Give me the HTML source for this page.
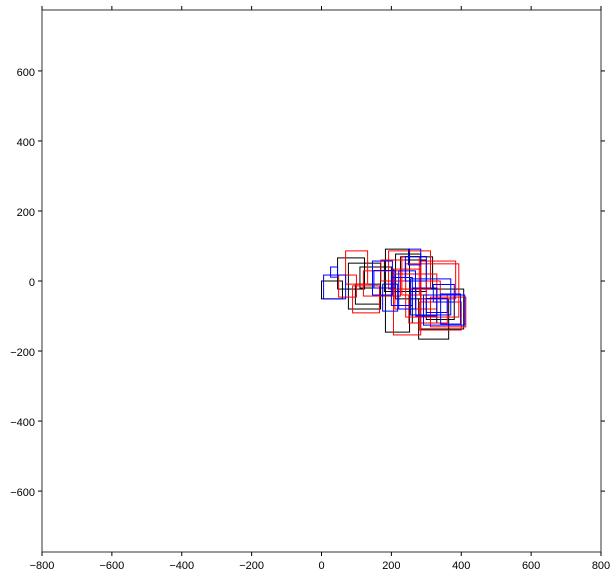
<!DOCTYPE html>
<html><head><meta charset="utf-8"><style>body{margin:0;background:#fff}svg{display:block}text{font-family:"Liberation Sans",sans-serif;font-size:11px;fill:#000}</style></head>
<body>
<svg id="chart" width="616" height="578"></svg>
<script>
const xTicks=[-800,-600,-400,-200,0,200,400,600,800];
const yTicks=[-600,-400,-200,0,200,400,600];
const blackX0=[0,46,77,183,226,278,284,212,97,180,260,110,300];
const blackY0=[-51,-23,-80,-146,-23,-166,-137,-51,-66,-30,-120,-20,-110];
const blackX1=[60,123,169,252,318,364,407,284,169,300,330,200,380];
const blackY1=[0,66,51,91,69,-51,-23,77,-9,60,-20,40,-40];
const redX0=[69,89,192,206,241,312,284,49,120,210,250,170,280,300,230];
const redY0=[-9,-91,-23,-154,-103,-131,-51,-46,-43,-80,-120,0,-140,-60,-40];
const redX1=[132,166,312,284,393,413,384,100,226,330,360,240,400,340,280];
const redY1=[86,-14,86,34,49,-46,57,17,29,20,-40,60,-60,0,70];
const blueX0=[26,6,249,146,255,292,221,175,341,200,270,240,300,150,320];
const blueY0=[11,-51,46,-40,-97,-126,-80,-86,-123,-70,-100,0,-90,-20,-60];
const blueX1=[46,69,284,203,370,410,269,218,398,260,330,300,360,210,380];
const blueY1=[40,17,91,57,6,-40,29,-9,-37,10,-20,70,-50,30,-10];
const L=42,R=601,T=10,B=552,XMIN=-800,XMAX=800,YMIN=-774,YMAX=774;
const sx=v=>L+(v-XMIN)/(XMAX-XMIN)*(R-L);
const sy=v=>B-(v-YMIN)/(YMAX-YMIN)*(B-T);
const svg=document.getElementById('chart');const NS='http://www.w3.org/2000/svg';
function mk(t,a){const e=document.createElementNS(NS,t);for(const k in a)e.setAttribute(k,a[k]);svg.appendChild(e);return e;}
function drawSet(x0,y0,x1,y1,col,name){for(let i=0;i<x0.length;i++){const r=mk('rect',{x:sx(x0[i]),y:sy(y1[i]),width:sx(x1[i])-sx(x0[i]),height:sy(y0[i])-sy(y1[i]),fill:'none',stroke:col,'stroke-width':1});

}}
drawSet(blackX0,blackY0,blackX1,blackY1,'#000','black');
drawSet(redX0,redY0,redX1,redY1,'#f00','red');
drawSet(blueX0,blueY0,blueX1,blueY1,'#00f','blue');
const f=mk('rect',{x:L,y:T,width:R-L,height:B-T,fill:'none',stroke:'#000','stroke-width':0.8});


xTicks.forEach(v=>{const x=sx(v);mk('line',{x1:x,x2:x,y1:B,y2:B+4,stroke:'#000'});mk('line',{x1:x,x2:x,y1:T,y2:T-4,stroke:'#000'});
const t=mk('text',{x:x,y:B+17,'text-anchor':'middle'});t.textContent=(v<0?'\u2212'+(-v):v);

});
yTicks.forEach(v=>{const y=sy(v);mk('line',{x1:L,x2:L-4,y1:y,y2:y,stroke:'#000'});mk('line',{x1:R,x2:R+4,y1:y,y2:y,stroke:'#000'});
const t=mk('text',{x:L-7,y:y+5,'text-anchor':'end'});t.textContent=(v<0?'\u2212'+(-v):v);

});
</script>
</body></html>
